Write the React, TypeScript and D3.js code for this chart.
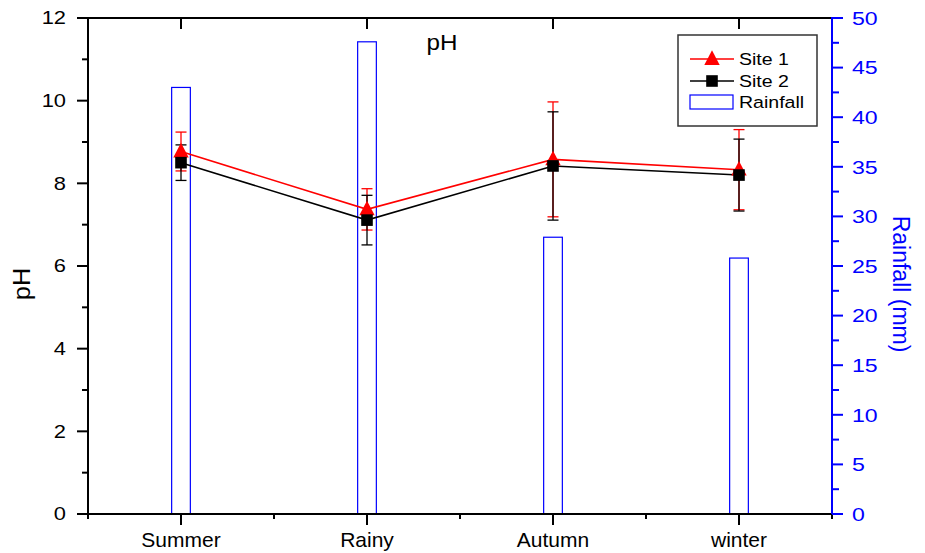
import React from "react";
import * as d3 from "d3";

const categories = ["Summer", "Rainy", "Autumn", "winter"];
const site1 = [8.77, 7.37, 8.58, 8.33];
const site1Err = [0.47, 0.5, 1.39, 0.97];
const site2 = [8.5, 7.11, 8.42, 8.2];
const site2Err = [0.43, 0.6, 1.31, 0.87];
const rainfall = [43.0, 47.6, 27.9, 25.8];
const leftTicks = [0, 2, 4, 6, 8, 10, 12];
const rightTicks = [0, 5, 10, 15, 20, 25, 30, 35, 40, 45, 50];

const W = 925, H = 553;
const L = 88, R = 832, T = 18, B = 514;

export default function App() {
  const x = d3.scaleLinear().domain([0.5, 4.5]).range([L, R]);
  const y = d3.scaleLinear().domain([0, 12]).range([B, T]);
  const y2 = d3.scaleLinear().domain([0, 50]).range([B, T]);
  const idx = categories.map((_, i) => i + 1);
  const line = d3.line<number>().x((_, i) => x(i + 1)).y((d) => y(d));
  const barW = 18.7;
  const font = "Liberation Sans, Arial, sans-serif";
  const minorX = d3.range(0.5, 4.51, 0.5);
  const minorY = d3.range(0, 12.01, 1);
  const minorY2 = d3.range(0, 50.01, 2.5);
  const cap = 5.5;
  const tri = (cx: number, cy: number, s: number) =>
    `M${cx},${cy - s * 0.62}L${cx + s * 0.55},${cy + s * 0.42}L${cx - s * 0.55},${cy + s * 0.42}Z`;

  const errs = (vals: number[], e: number[], color: string) =>
    vals.map((v, i) => {
      const cx = x(i + 1);
      return (
        <g key={i} stroke={color} strokeWidth={1.3}>
          <line x1={cx} x2={cx} y1={y(v + e[i])} y2={y(v - e[i])} />
          <line x1={cx - cap} x2={cx + cap} y1={y(v + e[i])} y2={y(v + e[i])} />
          <line x1={cx - cap} x2={cx + cap} y1={y(v - e[i])} y2={y(v - e[i])} />
        </g>
      );
    });

  return (
    <svg width={W} height={H} style={{ position: "absolute", left: 0, top: 0, background: "#fff" }} fontFamily={font}>
      <rect x={0} y={0} width={W} height={H} fill="#fff" />
      {rainfall.map((v, i) => (
        <rect key={i} x={x(i + 1) - barW / 2} y={y2(v)} width={barW} height={B - y2(v)} fill="none" stroke="#0000ff" strokeWidth={1.2} />
      ))}
      <path d={line(site1) || ""} fill="none" stroke="#ff0000" strokeWidth={1.6} />
      <path d={line(site2) || ""} fill="none" stroke="#000" strokeWidth={1.6} />
      {errs(site1, site1Err, "#ff0000")}
      {errs(site2, site2Err, "#000")}
      {site1.map((v, i) => (
        <path key={"t" + i} d={tri(x(i + 1), y(v), 14)} fill="#ff0000" />
      ))}
      {site2.map((v, i) => (
        <rect key={"s" + i} x={x(i + 1) - 5.8} y={y(v) - 5.8} width={11.6} height={11.6} fill="#000" />
      ))}
      <line x1={77} x2={R} y1={T} y2={T} stroke="#000" strokeWidth={2} />
      <line x1={77} x2={R} y1={B} y2={B} stroke="#000" strokeWidth={2} />
      <line x1={L} x2={L} y1={T} y2={B} stroke="#000" strokeWidth={2} />
      <line x1={R} x2={R} y1={T - 1} y2={B + 1} stroke="#0000ff" strokeWidth={2} />
      {minorX.map((v, i) => (
        <line key={"bx" + i} x1={x(v)} x2={x(v)} y1={B} y2={B + (Number.isInteger(v) ? 11 : 5)} stroke="#000" strokeWidth={2} />
      ))}
      {idx.map((v) => (
        <line key={"tx" + v} x1={x(v)} x2={x(v)} y1={T} y2={T + 11} stroke="#000" strokeWidth={2} />
      ))}
      {categories.map((c, i) => (
        <text key={c} x={x(i + 1)} y={547} textAnchor="middle" fontSize={21} fill="#000">{c}</text>
      ))}
      {minorY.map((v) => (
        <line key={"ly" + v} x1={L - (v % 2 === 0 ? 11 : 6)} x2={L} y1={y(v)} y2={y(v)} stroke="#000" strokeWidth={2} />
      ))}
      {leftTicks.map((v) => (
        <text key={"lt" + v} transform={`translate(66,${y(v) + 6.2}) scale(1.25,1)`} textAnchor="end" fontSize={17.5} fill="#000">{v}</text>
      ))}
      {minorY2.map((v) => (
        <line key={"ry" + v} x1={R} x2={R + (v % 5 === 0 ? 11 : 7)} y1={y2(v)} y2={y2(v)} stroke="#0000ff" strokeWidth={2} />
      ))}
      {rightTicks.map((v) => (
        <text key={"rt" + v} transform={`translate(852,${y2(v) + 6.7}) scale(1.25,1)`} textAnchor="start" fontSize={18.5} fill="#0000ff">{v}</text>
      ))}
      <text transform="translate(442,50) scale(1.1,1)" textAnchor="middle" fontSize={22} fill="#000">pH</text>
      <text transform={`translate(30,284) rotate(-90) scale(1.1,1)`} textAnchor="middle" fontSize={23} fill="#000">pH</text>
      <text transform={`translate(893,284) rotate(90)`} textAnchor="middle" fontSize={23} fill="#0000ff">Rainfall (mm)</text>
      <g>
        <rect x={678} y={35} width={139} height={91} fill="#fff" stroke="#333" strokeWidth={1.5} />
        <line x1={690} x2={734} y1={59} y2={59} stroke="#ff0000" strokeWidth={1.6} />
        <path d={tri(712, 59, 14)} fill="#ff0000" />
        <text transform="translate(739,65) scale(1.15,1)" fontSize={17} fill="#000">Site 1</text>
        <line x1={690} x2={734} y1={81} y2={81} stroke="#000" strokeWidth={1.6} />
        <rect x={706.2} y={75.2} width={11.6} height={11.6} fill="#000" />
        <text transform="translate(739,87) scale(1.15,1)" fontSize={17} fill="#000">Site 2</text>
        <rect x={690} y={95} width={43} height={14} fill="none" stroke="#0000ff" strokeWidth={1.2} />
        <text transform="translate(739,108) scale(1.15,1)" fontSize={17} fill="#000">Rainfall</text>
      </g>
    </svg>
  );
}
